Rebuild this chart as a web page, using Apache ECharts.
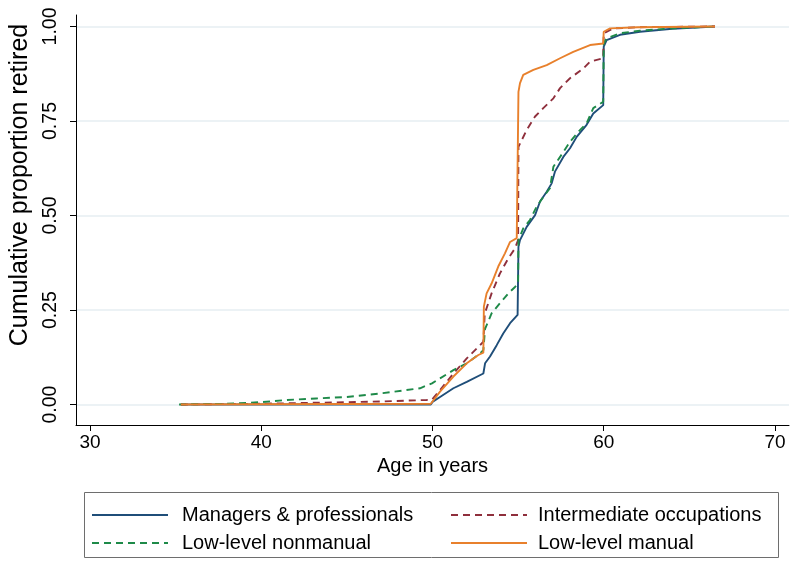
<!DOCTYPE html>
<html>
<head>
<meta charset="utf-8">
<script src="https://cdn.jsdelivr.net/npm/echarts@6/dist/echarts.min.js"></script>
<style>html,body{margin:0;padding:0;background:#fff;}#c{width:790px;height:562px;}</style>
</head>
<body>
<div id="c"></div>
<script>
var seriesNames = ['Managers & professionals', 'Intermediate occupations', 'Low-level nonmanual', 'Low-level manual'];
var xTicks = [30, 40, 50, 60, 70];
var yTicks = [0, 0.25, 0.5, 0.75, 1];

var managersAge = [35.3, 49.9, 50.0, 50.44, 51.22, 52.0, 52.97, 53.07, 53.36, 53.75, 54.13, 54.53, 54.97, 55.0, 55.02, 55.11, 55.5, 55.99, 56.28, 56.67, 56.96, 57.15, 57.64, 58.03, 58.42, 59.0, 59.39, 59.97, 60.0, 60.17, 60.95, 62.12, 64.0, 66.5];
var managersVal = [0, 0, 0.007, 0.02, 0.043, 0.06, 0.082, 0.109, 0.127, 0.157, 0.188, 0.215, 0.237, 0.237, 0.417, 0.435, 0.47, 0.501, 0.537, 0.563, 0.585, 0.616, 0.655, 0.678, 0.708, 0.74, 0.77, 0.792, 0.947, 0.964, 0.978, 0.986, 0.994, 1.0];

var intermAge = [35.3, 40.0, 43.6, 47.0, 49.66, 49.97, 50.44, 51.22, 52.0, 52.78, 52.97, 53.05, 53.45, 53.94, 54.43, 54.82, 55.0, 55.02, 55.11, 55.5, 55.99, 56.47, 57.06, 57.45, 58.03, 58.81, 59.2, 59.97, 60.0, 60.56, 62.0, 66.5];
var intermVal = [0, 0.002, 0.005, 0.008, 0.012, 0.013, 0.038, 0.082, 0.122, 0.157, 0.166, 0.24, 0.294, 0.347, 0.387, 0.413, 0.435, 0.682, 0.69, 0.726, 0.762, 0.784, 0.81, 0.837, 0.863, 0.889, 0.907, 0.916, 0.982, 0.995, 0.998, 1.0];

var nonmanualAge = [35.2, 38.0, 39.9, 41.5, 43.2, 45.0, 47.1, 49.27, 49.97, 50.44, 51.22, 52.0, 52.78, 52.97, 53.07, 53.45, 53.94, 54.43, 54.82, 55.0, 55.02, 55.3, 55.69, 56.08, 56.47, 56.86, 57.06, 57.45, 58.03, 58.61, 59.0, 59.39, 59.97, 60.0, 60.17, 60.95, 62.12, 64.0, 66.5];
var nonmanualVal = [0, 0.002, 0.006, 0.012, 0.016, 0.02, 0.03, 0.043, 0.056, 0.069, 0.091, 0.109, 0.135, 0.144, 0.2, 0.241, 0.268, 0.294, 0.311, 0.32, 0.435, 0.466, 0.488, 0.523, 0.549, 0.572, 0.629, 0.655, 0.695, 0.726, 0.744, 0.784, 0.801, 0.955, 0.969, 0.982, 0.989, 0.995, 1.0];

var manualAge = [35.3, 49.9, 50.0, 50.44, 51.22, 52.0, 52.68, 52.97, 53.0, 53.16, 53.45, 53.84, 54.23, 54.53, 54.92, 55.0, 55.02, 55.11, 55.3, 55.89, 56.67, 57.45, 58.22, 59.2, 59.97, 60.0, 60.37, 62.0, 66.5];
var manualVal = [0, 0.002, 0.005, 0.034, 0.074, 0.109, 0.131, 0.137, 0.259, 0.294, 0.32, 0.365, 0.40, 0.43, 0.44, 0.44, 0.827, 0.85, 0.872, 0.885, 0.898, 0.916, 0.933, 0.951, 0.955, 0.986, 0.995, 0.998, 1.0];

function pairs(a, b) { return a.map(function (x, i) { return [x, b[i]]; }); }

var colors = ['#1f4e79', '#8f2f3c', '#1e8a49', '#e8802c'];
var font = "'Liberation Sans', Arial, sans-serif";

function mk(name, data, color, dashed) {
  return {
    name: name, type: 'line', data: data, symbol: 'none', showSymbol: false,
    color: color,
    lineStyle: { color: color, width: 1.9, type: dashed ? [7, 5] : 'solid' },
    emphasis: { disabled: true }, animation: false
  };
}

function legendDef(names, left, pad) {
  return {
    data: names, orient: 'vertical', left: left, top: 505, padding: 0,
    itemWidth: 76, itemHeight: 20, itemGap: 8, selectedMode: false,
    itemStyle: { opacity: 0 },
    formatter: function (n) { return '{a|' + n + '}'; },
    textStyle: { fontSize: 20, color: '#000', fontFamily: font,
      rich: { a: { fontSize: 20, padding: [0, 0, 0, pad], fontFamily: font, color: '#000' } } }
  };
}

var chart = echarts.init(document.getElementById('c'), null, { renderer: 'canvas' });
chart.setOption({
  backgroundColor: '#ffffff',
  animation: false,
  textStyle: { fontFamily: font },
  grid: { left: 76, right: 1, top: 15, bottom: 137, containLabel: false },
  xAxis: {
    type: 'value', min: 29.18, max: 70.82,
    name: 'Age in years', nameLocation: 'middle', nameGap: 30,
    nameTextStyle: { fontSize: 20, color: '#000', fontFamily: font },
    axisLine: { show: true, onZero: false, lineStyle: { color: '#000', width: 1 } },
    axisTick: { show: true, length: 6, customValues: xTicks, lineStyle: { color: '#000' } },
    axisLabel: { customValues: xTicks, fontSize: 19, color: '#000', margin: 8, fontFamily: font },
    splitLine: { show: false }
  },
  yAxis: {
    type: 'value', min: -0.0542, max: 1.0304,
    name: 'Cumulative proportion retired', nameLocation: 'middle', nameGap: 42, nameRotate: 90,
    nameTextStyle: { fontSize: 25, color: '#000', fontFamily: font, padding: [0, 0, 0, 70] },
    axisLine: { show: true, onZero: false, lineStyle: { color: '#000', width: 1 } },
    axisTick: { show: true, length: 6, customValues: yTicks, lineStyle: { color: '#000' } },
    axisLabel: { customValues: yTicks, rotate: 90, fontSize: 19.5, color: '#000', margin: 15, fontFamily: font,
      formatter: function (v) { return v.toFixed(2); } },
    splitLine: { show: true, lineStyle: { color: '#e6eef2', width: 1.5 } }
  },
  legend: [
    legendDef([seriesNames[0], seriesNames[2]], 91, 9),
    legendDef([seriesNames[1], seriesNames[3]], 450, 6)
  ],
  graphic: [
    { type: 'rect', shape: { x: 84.5, y: 492.5, width: 694, height: 65 }, style: { fill: 'none', stroke: '#6e6e6e', lineWidth: 1 }, silent: true }
  ],
  series: [
    mk(seriesNames[0], pairs(managersAge, managersVal), colors[0], false),
    mk(seriesNames[1], pairs(intermAge, intermVal), colors[1], true),
    mk(seriesNames[2], pairs(nonmanualAge, nonmanualVal), colors[2], true),
    mk(seriesNames[3], pairs(manualAge, manualVal), colors[3], false)
  ]
});
</script>
</body>
</html>
